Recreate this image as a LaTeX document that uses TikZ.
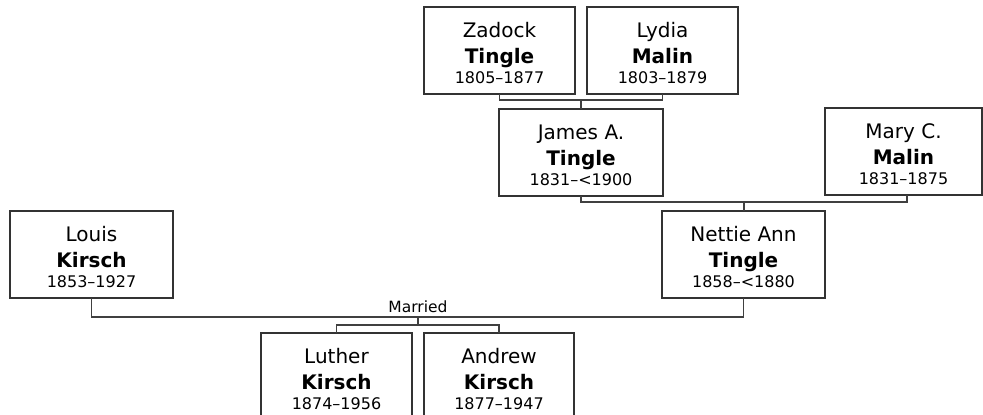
\documentclass[tikz,border=0pt]{standalone}
\usepackage{fontspec}
\setmainfont{DejaVu Sans}
\usetikzlibrary{calc}
\definecolor{linec}{HTML}{404040}
\definecolor{boxc}{HTML}{333333}
\tikzset{
  personbox/.style={draw=boxc, line width=1.4pt, fill=white, rectangle, minimum height=87pt, inner sep=0pt, outer sep=0pt, anchor=north west},
  firstname/.style={inner sep=0pt, anchor=base, font=\fontsize{20}{24}\selectfont},
  lastname/.style={inner sep=0pt, anchor=base, font=\fontsize{20}{24}\selectfont\bfseries},
  dates/.style={inner sep=0pt, anchor=base, font=\fontsize{16}{19}\selectfont},
  conn/.style={draw=linec, line width=1.6pt},
  marrlabel/.style={inner sep=0pt, anchor=base, font=\fontsize{15.5}{18}\selectfont}
}
\newcommand\personnode[7]{%
  \node[personbox, minimum width=#4pt] (#1) at (#2,#3) {};
  \node[firstname] (#1-a) at ([yshift=-30pt]#1.north) {#5};
  \node[lastname] (#1-b) at ([yshift=-56pt]#1.north) {#6};
  \node[dates] (#1-c) at ([yshift=-76pt]#1.north) {#7};
}
\begin{document}
\begin{tikzpicture}[x=1pt,y=-1pt]
\useasboundingbox (0,0) rectangle (983,415);
\clip (0,0) rectangle (983,415);
\fill[white] (0,0) rectangle (983,415);
\coordinate (zl) at (581,100);
\coordinate (jm) at (744,202);
\coordinate (ln) at (418,317);
\coordinate (ch) at (418,325);
\personnode{Z}{424}{7}{151}{Zadock}{Tingle}{1805–1877}
\personnode{L}{587}{7}{151}{Lydia}{Malin}{1803–1879}
\personnode{J}{499}{109}{164}{James A.}{Tingle}{1831–<1900}
\personnode{M}{825}{108}{157}{Mary C.}{Malin}{1831–1875}
\personnode{N}{662}{211}{163}{Nettie Ann}{Tingle}{1858–<1880}
\personnode{K}{10}{211}{163}{Louis}{Kirsch}{1853–1927}
\personnode{U}{261}{333}{151}{Luther}{Kirsch}{1874–1956}
\personnode{A}{424}{333}{150}{Andrew}{Kirsch}{1877–1947}
\draw[conn] (Z.south) |- (zl) -| (L.south);
\draw[conn] (zl) -- (zl |- J.north);
\draw[conn] (J.south) |- (jm) -| ([xshift=3.5pt]M.south);
\draw[conn] (jm) -- (jm |- N.north);
\draw[conn] (K.south) |- (ln) -| (N.south);
\draw[conn] (ln) -- (ch);
\draw[conn] (U.north) |- (ch) -| (A.north);
\node[marrlabel] (marr) at (418,312) {Married};
\end{tikzpicture}
\end{document}
